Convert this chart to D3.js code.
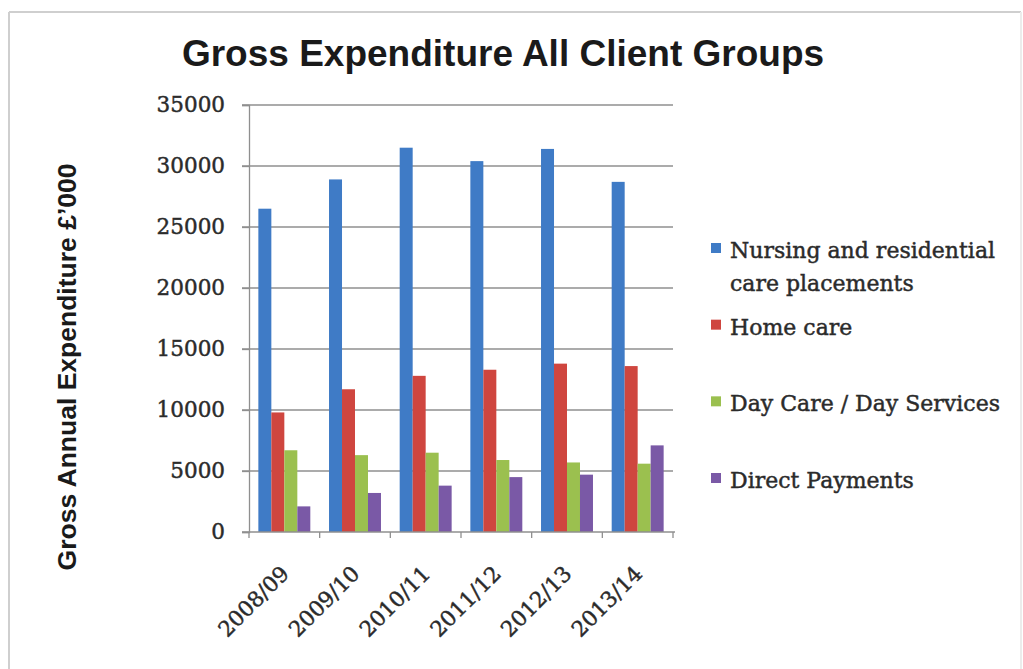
<!DOCTYPE html>
<html>
<head>
<meta charset="utf-8">
<script src="https://cdn.jsdelivr.net/npm/d3@7"></script>
<style>
  html, body { margin: 0; padding: 0; background: #fff; }
  svg { display: block; }
</style>
</head>
<body>
<svg id="chart" width="1023" height="669"></svg>
<script>
// Financial years shown on the x axis
const years = ["2008/09", "2009/10", "2010/11", "2011/12", "2012/13", "2013/14"];

// Gross annual expenditure (£'000) per client service
const nursingResidential = [26500, 28900, 31500, 30400, 31400, 28700];
const homeCare           = [9800, 11700, 12800, 13300, 13800, 13600];
const dayCare            = [6700, 6300, 6500, 5900, 5700, 5600];
const directPayments     = [2100, 3200, 3800, 4500, 4700, 7100];

const seriesNames = [
  "Nursing and residential care placements",
  "Home care",
  "Day Care / Day Services",
  "Direct Payments"
];
// Legend wraps the first entry onto two lines
const legendLines = [
  ["Nursing and residential", "care placements"],
  ["Home care"],
  ["Day Care / Day Services"],
  ["Direct Payments"]
];
const yTicks = [0, 5000, 10000, 15000, 20000, 25000, 30000, 35000];

const seriesValues = [nursingResidential, homeCare, dayCare, directPayments];
const colors = ["#3f7bc6", "#cf463f", "#9bc04f", "#7a59a6"];

const svg = d3.select("#chart");
const W = 1023, H = 669;
const serif = "'DejaVu Serif', serif";
const textColor = "#2b2b2b";

svg.append("rect").attr("width", W).attr("height", H).attr("fill", "#fff");

// Frame around the chart area
const frame = svg.append("g").attr("fill", "none").attr("stroke", "#cfcfcf").attr("stroke-width", 2);
frame.append("line").attr("x1", 9).attr("y1", 12).attr("x2", 1021).attr("y2", 12);
frame.append("line").attr("x1", 9).attr("y1", 12).attr("x2", 9).attr("y2", H);
frame.append("line").attr("x1", 1021).attr("y1", 12).attr("x2", 1021).attr("y2", H).attr("stroke", "#ececec");

const plot = { left: 249, right: 673, top: 105, bottom: 532 };

const y = d3.scaleLinear().domain([0, 35000]).range([plot.bottom, plot.top]);
const x0 = d3.scaleBand().domain(years).range([plot.left, plot.right]).padding(0);
const x1 = d3.scaleBand().domain(d3.range(seriesNames.length))
  .range([0, x0.bandwidth()]).paddingInner(0).paddingOuter(0.72);

// Horizontal gridlines (extend left past the axis as tick marks)
const grid = svg.append("g").attr("stroke", "#8f8f8f").attr("stroke-width", 1.3);
grid.selectAll("line").data(yTicks.filter(d => d > 0)).join("line")
  .attr("x1", plot.left - 7).attr("x2", plot.right)
  .attr("y1", d => y(d)).attr("y2", d => y(d));

// Bars
const groups = svg.append("g").selectAll("g").data(years).join("g")
  .attr("transform", d => `translate(${x0(d)},0)`);
groups.selectAll("rect")
  .data((yr, i) => seriesValues.map((vals, s) => ({ s, v: vals[i] })))
  .join("rect")
  .attr("x", d => x1(d.s))
  .attr("width", x1.bandwidth())
  .attr("y", d => y(d.v))
  .attr("height", d => y(0) - y(d.v))
  .attr("fill", d => colors[d.s]);

// Y axis
const yAxis = d3.axisLeft(y).tickValues(yTicks).tickSize(7).tickPadding(17).tickFormat(d3.format("d"));
const gy = svg.append("g").attr("transform", `translate(${plot.left},0)`).call(yAxis);
gy.select(".domain").attr("stroke", "#8f8f8f").attr("stroke-width", 1.3);
gy.selectAll(".tick line").attr("stroke", "#8f8f8f").attr("stroke-width", 1.3);
gy.selectAll(".tick text")
  .attr("font-family", serif)
  .attr("font-size", 21.5)
  .attr("fill", textColor)
  .attr("stroke", textColor).attr("stroke-width", 0.45);

// X axis with ticks at category boundaries
const gx = svg.append("g").attr("transform", `translate(0,${plot.bottom})`);
gx.append("line").attr("x1", plot.left - 7).attr("x2", plot.right + 2)
  .attr("stroke", "#8f8f8f").attr("stroke-width", 1.3);
const boundaries = years.map(d => x0(d)).concat([x0(years[years.length - 1]) + x0.bandwidth()]);
gx.selectAll("line.b").data(boundaries).join("line").attr("class", "b")
  .attr("x1", d => d).attr("x2", d => d).attr("y1", 0).attr("y2", 6)
  .attr("stroke", "#8f8f8f").attr("stroke-width", 1.3);
gx.selectAll("text").data(years).join("text")
  .attr("transform", d => `translate(${x0(d) + x0.bandwidth() / 2 + 6},${43}) rotate(-45)`)
  .attr("text-anchor", "end")
  .attr("font-family", serif)
  .attr("font-size", 21.5)
  .attr("fill", textColor)
  .attr("stroke", textColor).attr("stroke-width", 0.45)
  .text(d => d);

// Title
svg.append("text")
  .attr("x", 503).attr("y", 66)
  .attr("text-anchor", "middle")
  .attr("font-family", "'Liberation Sans', Arial, sans-serif")
  .attr("font-weight", "bold")
  .attr("font-size", 37)
  .attr("fill", "#1a1a1a")
  .text("Gross Expenditure All Client Groups");

// Y axis title
svg.append("text")
  .attr("transform", "translate(76,367) rotate(-90)")
  .attr("text-anchor", "middle")
  .attr("font-family", "'Liberation Sans', Arial, sans-serif")
  .attr("font-weight", "bold")
  .attr("font-size", 26.5)
  .attr("fill", "#1a1a1a")
  .text("Gross Annual Expenditure £’000");

// Legend
const ly = d3.scaleLinear().domain([0, seriesNames.length - 1]).range([258, 488]);
const legend = svg.append("g").selectAll("g").data(seriesNames).join("g")
  .attr("transform", (d, i) => `translate(0,${ly(i)})`);
legend.append("rect")
  .attr("x", 711).attr("y", -15).attr("width", 10).attr("height", 10)
  .attr("fill", (d, i) => colors[i]);
legend.append("text")
  .attr("x", 730)
  .attr("font-family", serif)
  .attr("font-size", 22)
  .attr("fill", textColor)
  .attr("stroke", textColor).attr("stroke-width", 0.45)
  .selectAll("tspan").data((d, i) => legendLines[i]).join("tspan")
  .attr("x", 730)
  .attr("dy", (d, j) => j === 0 ? 0 : 33)
  .text(d => d);
</script>
</body>
</html>
